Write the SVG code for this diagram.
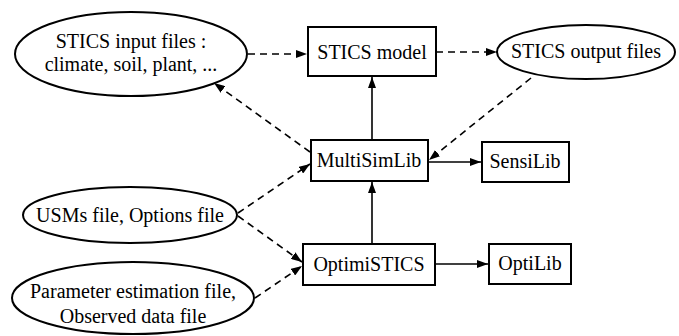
<svg xmlns="http://www.w3.org/2000/svg" width="679" height="336" viewBox="0 0 679 336">
<defs>
<marker id="ah" markerWidth="11" markerHeight="8" refX="11" refY="4" orient="auto" markerUnits="userSpaceOnUse">
<path d="M0,0 L11,4 L0,8 z" fill="#000"/>
</marker>
<style>
.n{fill:#fff;stroke:#000;stroke-width:2}
.t{font-size:20px;fill:#000;text-anchor:middle}
.c{fill:none;stroke:#000;stroke-width:1.6;marker-end:url(#ah)}
.d{stroke-dasharray:7 5}
</style>
</defs>
<rect width="679" height="336" fill="#fff"/>
<g id="connectors">
<line class="c d" x1="248" y1="54" x2="307" y2="54"/>
<line class="c d" x1="436" y1="52" x2="497" y2="52"/>
<line class="c" x1="372" y1="140" x2="372" y2="77"/>
<line class="c d" x1="310" y1="152" x2="214" y2="83"/>
<line class="c d" x1="531" y1="78" x2="429" y2="160"/>
<line class="c" x1="428" y1="162" x2="481" y2="162"/>
<line class="c d" x1="238" y1="213" x2="310" y2="164"/>
<line class="c d" x1="238" y1="216" x2="302" y2="262"/>
<line class="c d" x1="255" y1="298" x2="302" y2="266"/>
<line class="c" x1="372" y1="244" x2="372" y2="182"/>
<line class="c" x1="435" y1="264" x2="488" y2="264"/>
</g>
<g font-family="'Liberation Serif', 'Times New Roman', 'DejaVu Serif', serif">
<g id="stics-input">
<ellipse class="n" cx="131" cy="54" rx="116" ry="42"/>
<text class="t" x="131" y="48">STICS input files :</text>
<text class="t" x="131" y="71">climate, soil, plant, ...</text>
</g>
<g id="stics-model">
<rect class="n" x="308" y="27" width="128" height="49"/>
<text class="t" x="372" y="59">STICS model</text>
</g>
<g id="stics-output">
<ellipse class="n" cx="586" cy="52" rx="89" ry="27"/>
<text class="t" x="586" y="58">STICS output files</text>
</g>
<g id="multisimlib">
<rect class="n" x="311" y="140" width="117" height="41"/>
<text class="t" x="369" y="167">MultiSimLib</text>
</g>
<g id="sensilib">
<rect class="n" x="482" y="142" width="87" height="40"/>
<text class="t" x="525" y="168">SensiLib</text>
</g>
<g id="usms">
<ellipse class="n" cx="130" cy="215" rx="107" ry="28"/>
<text class="t" x="130" y="222">USMs file, Options file</text>
</g>
<g id="optimistics">
<rect class="n" x="303" y="244" width="132" height="41"/>
<text class="t" x="369" y="271">OptimiSTICS</text>
</g>
<g id="optilib">
<rect class="n" x="489" y="244" width="82" height="40"/>
<text class="t" x="530" y="270">OptiLib</text>
</g>
<g id="parameter">
<ellipse class="n" cx="133" cy="298" rx="121" ry="36"/>
<text class="t" x="133" y="298">Parameter estimation file,</text>
<text class="t" x="133" y="323">Observed data file</text>
</g>
</g>
</svg>
